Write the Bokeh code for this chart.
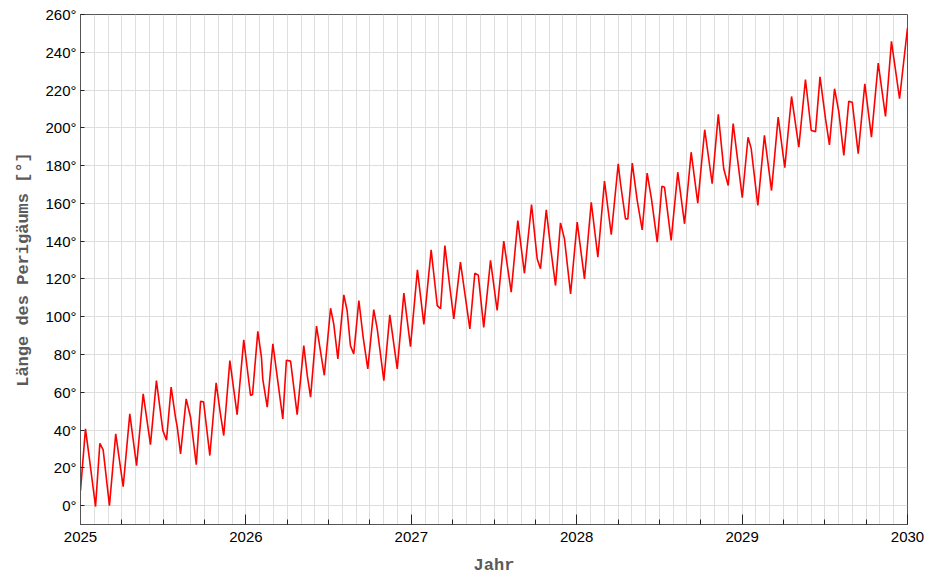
from bokeh.plotting import figure
from bokeh.models import FixedTicker, PrintfTickFormatter, Range1d, ColumnDataSource
from bokeh.embed import file_html
from bokeh.resources import INLINE

# Decimal year of each read point
jahr = [
    2025.000, 2025.030, 2025.054, 2025.091, 2025.117, 2025.137, 2025.175, 2025.213, 2025.258, 2025.298,
    2025.339, 2025.379, 2025.423, 2025.459, 2025.498, 2025.520, 2025.548, 2025.574, 2025.585, 2025.605,
    2025.639, 2025.665, 2025.700, 2025.726, 2025.744, 2025.782, 2025.820, 2025.846, 2025.866, 2025.903,
    2025.947, 2025.987, 2026.028, 2026.040, 2026.072, 2026.094, 2026.102, 2026.129, 2026.163, 2026.183,
    2026.223, 2026.245, 2026.270, 2026.310, 2026.350, 2026.371, 2026.391, 2026.427, 2026.474, 2026.512,
    2026.531, 2026.556, 2026.592, 2026.612, 2026.632, 2026.652, 2026.683, 2026.709, 2026.737, 2026.773,
    2026.794, 2026.834, 2026.870, 2026.915, 2026.955, 2026.995, 2027.037, 2027.076, 2027.120, 2027.157,
    2027.177, 2027.203, 2027.233, 2027.257, 2027.297, 2027.354, 2027.384, 2027.405, 2027.438, 2027.479,
    2027.519, 2027.559, 2027.604, 2027.644, 2027.684, 2027.727, 2027.761, 2027.781, 2027.816, 2027.842,
    2027.872, 2027.902, 2027.926, 2027.963, 2028.003, 2028.047, 2028.088, 2028.128, 2028.168, 2028.209,
    2028.251, 2028.265, 2028.295, 2028.309, 2028.336, 2028.366, 2028.396, 2028.426, 2028.452, 2028.487,
    2028.515, 2028.531, 2028.571, 2028.611, 2028.652, 2028.692, 2028.732, 2028.774, 2028.819, 2028.856,
    2028.889, 2028.916, 2028.946, 2029.001, 2029.036, 2029.055, 2029.095, 2029.135, 2029.178, 2029.218,
    2029.258, 2029.299, 2029.343, 2029.383, 2029.418, 2029.444, 2029.471, 2029.504, 2029.528, 2029.559,
    2029.585, 2029.615, 2029.645, 2029.666, 2029.702, 2029.742, 2029.782, 2029.823, 2029.867, 2029.903,
    2029.952, 2030.000,
]

# Longitude of perigee (degrees)
laenge = [
    7.9, 40.6, 24.7, -0.5, 33.0, 29.5, 0.0, 38.0, 10.0, 48.6,
    21.2, 59.2, 32.3, 66.2, 39.7, 34.6, 62.7, 46.8, 41.5, 27.4,
    56.5, 46.8, 21.7, 55.2, 55.0, 26.5, 65.0, 48.6, 37.1, 76.8,
    48.2, 87.8, 58.3, 58.8, 92.3, 78.6, 67.0, 52.1, 85.6, 72.4,
    45.9, 77.0, 76.5, 48.2, 84.7, 68.9, 57.4, 95.0, 69.0, 104.5,
    96.2, 77.7, 111.6, 103.3, 84.7, 80.3, 108.6, 89.1, 72.4, 103.8,
    93.6, 66.2, 101.0, 72.4, 112.5, 84.2, 124.8, 95.9, 135.4, 105.9,
    104.2, 137.7, 115.6, 98.9, 128.9, 93.6, 123.0, 122.0, 94.4, 129.8,
    103.3, 140.0, 113.0, 150.9, 123.0, 159.4, 130.7, 125.4, 156.6, 136.8,
    116.5, 149.7, 141.2, 112.1, 150.1, 120.0, 160.6, 131.5, 171.8, 143.4,
    181.0, 170.4, 151.8, 151.8, 181.3, 161.5, 146.0, 176.0, 162.4, 139.5,
    169.1, 168.5, 140.4, 176.5, 149.2, 187.1, 160.1, 199.0, 170.4, 207.1,
    178.3, 169.5, 202.2, 163.0, 195.0, 189.0, 158.9, 196.0, 166.8, 205.7,
    178.9, 216.6, 189.8, 225.6, 198.6, 198.0, 227.0, 205.0, 191.0, 220.7,
    208.3, 185.4, 214.0, 213.5, 186.3, 223.3, 195.1, 234.3, 206.0, 245.8,
    215.4, 253.0,
]

jahre = [2025, 2026, 2027, 2028, 2029, 2030]
quartale = [y + q / 4 for y in range(2025, 2030) for q in range(1, 4)]
monate = [y + m / 12 for y in range(2025, 2030) for m in range(12)] + [2030]
grad_ticks = list(range(0, 261, 20))

src = ColumnDataSource(data=dict(jahr=jahr, laenge=laenge))

p = figure(
    frame_width=827, frame_height=510,
    x_range=Range1d(2025, 2030), y_range=Range1d(-10, 260),
    output_backend="svg", toolbar_location=None,
    min_border_left=80, min_border_right=24, min_border_top=14, min_border_bottom=40,
    background_fill_color="white", border_fill_color="white",
)

p.line("jahr", "laenge", source=src, line_color="#ff0000", line_width=1.6)

p.outline_line_color = "#555555"
p.outline_line_width = 1

# x axis
xa = p.xaxis[0]
xa.ticker = FixedTicker(ticks=jahre, minor_ticks=quartale)
xa.major_tick_in = 10
xa.major_tick_out = 0
xa.minor_tick_in = 5
xa.minor_tick_out = 0
xa.axis_line_color = "#555555"
xa.major_tick_line_color = "#222222"
xa.minor_tick_line_color = "#222222"
xa.major_label_text_font = "Liberation Sans"
xa.major_label_text_font_size = "15px"
xa.major_label_text_color = "#000000"
xa.major_label_standoff = 7
xa.axis_label = "Jahr"
xa.axis_label_text_font = "Liberation Mono"
xa.axis_label_text_font_style = "bold"
xa.axis_label_text_font_size = "17px"
xa.axis_label_text_color = "#5a5a5a"
xa.axis_label_standoff = 11

# y axis
ya = p.yaxis[0]
ya.ticker = FixedTicker(ticks=grad_ticks)
ya.formatter = PrintfTickFormatter(format="%d°")
ya.major_tick_in = 4
ya.major_tick_out = 0
ya.minor_tick_in = 0
ya.minor_tick_out = 0
ya.axis_line_color = "#555555"
ya.major_tick_line_color = "#222222"
ya.major_label_text_font = "Liberation Sans"
ya.major_label_text_font_size = "15px"
ya.major_label_text_color = "#000000"
ya.major_label_standoff = 4
ya.axis_label = "Länge des Perigäums [°]"
ya.axis_label_text_font = "Liberation Mono"
ya.axis_label_text_font_style = "bold"
ya.axis_label_text_font_size = "17px"
ya.axis_label_text_color = "#5a5a5a"
ya.axis_label_standoff = 9

# grids
p.xgrid.ticker = FixedTicker(ticks=monate)
p.xgrid.grid_line_color = "#dedede"
p.ygrid.ticker = FixedTicker(ticks=grad_ticks)
p.ygrid.grid_line_color = "#dedede"

open("out.html", "w").write(file_html(p, INLINE))
